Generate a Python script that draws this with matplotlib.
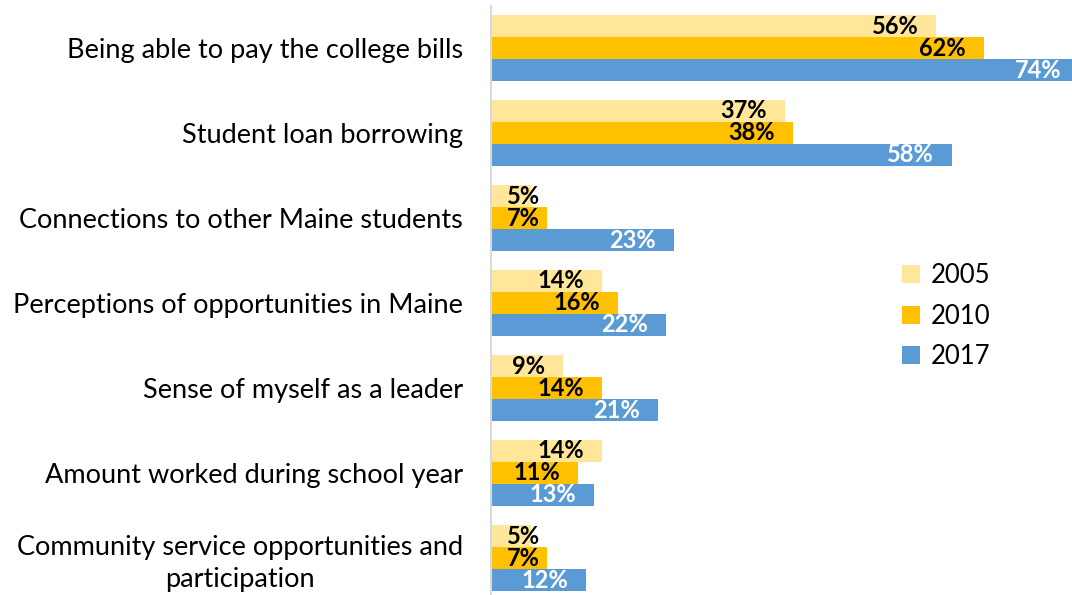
import numpy as np
import matplotlib
matplotlib.use("Agg")
import matplotlib.pyplot as plt
from matplotlib.patches import Patch

plt.rcParams["font.family"] = ["Lato", "DejaVu Sans"]

categories = [
    "Being able to pay the college bills",
    "Student loan borrowing",
    "Connections to other Maine students",
    "Perceptions of opportunities in Maine",
    "Sense of myself as a leader",
    "Amount worked during school year",
    "Community service opportunities and\nparticipation",
]
years = ["2005", "2010", "2017"]
v2005 = [56, 37, 5, 14, 9, 14, 5]
v2010 = [62, 38, 7, 16, 14, 11, 7]
v2017 = [74, 58, 23, 22, 21, 13, 12]

COLORS = ["#FFE699", "#FFC000", "#5B9BD5"]
TXT = ["black", "black", "white"]

W, H = 1072, 595
fig = plt.figure(figsize=(W / 100, H / 100), dpi=100)
# axes placed in pixel terms: x from 491 to right edge, category bands 85px tall
ax = fig.add_axes([491 / W, (H - 600.5) / H, 1 - 491 / W, 595 / H])

y = np.arange(len(categories))
bh = 22 / 85
for i, (vals, c, tc) in enumerate(zip([v2005, v2010, v2017], COLORS, TXT)):
    pos = y + (i - 1) * bh
    ax.barh(pos, vals, height=bh, color=c, label=years[i])
    for p, v in zip(pos, vals):
        if v < 8:
            xy, off, ha = (0, p), (16, 0), "left"
        else:
            xy, off, ha = (v, p), (-18, 0), "right"
        ax.annotate(f"{v}%", xy, xytext=off, textcoords="offset pixels",
                    ha=ha, va="center", fontsize=17, fontweight="bold", color=tc,
                    annotation_clip=False)

ax.set_xlim(0, 581 / 7.95)
ax.set_ylim(len(categories) - 0.5, -0.5)
ax.set_yticks(y)
ax.set_yticklabels(categories, fontsize=19.5, multialignment="center", linespacing=1.35)
ax.tick_params(axis="y", length=0, pad=20)
ax.set_xticks([])
for s in ["top", "right", "bottom"]:
    ax.spines[s].set_visible(False)
ax.spines["left"].set_color("#D9D9D9")
ax.spines["left"].set_linewidth(1.5)

handles = [Patch(facecolor=c, label=yr) for c, yr in zip(COLORS, years)]
fig.legend(handles=handles, loc="center left", bbox_to_anchor=(879 / W, 1 - 316 / H),
           frameon=False, fontsize=18.5, handlelength=0.7, handleheight=0.7,
           handletextpad=0.4, labelspacing=0.6)

fig.savefig("out.png", dpi=100)
